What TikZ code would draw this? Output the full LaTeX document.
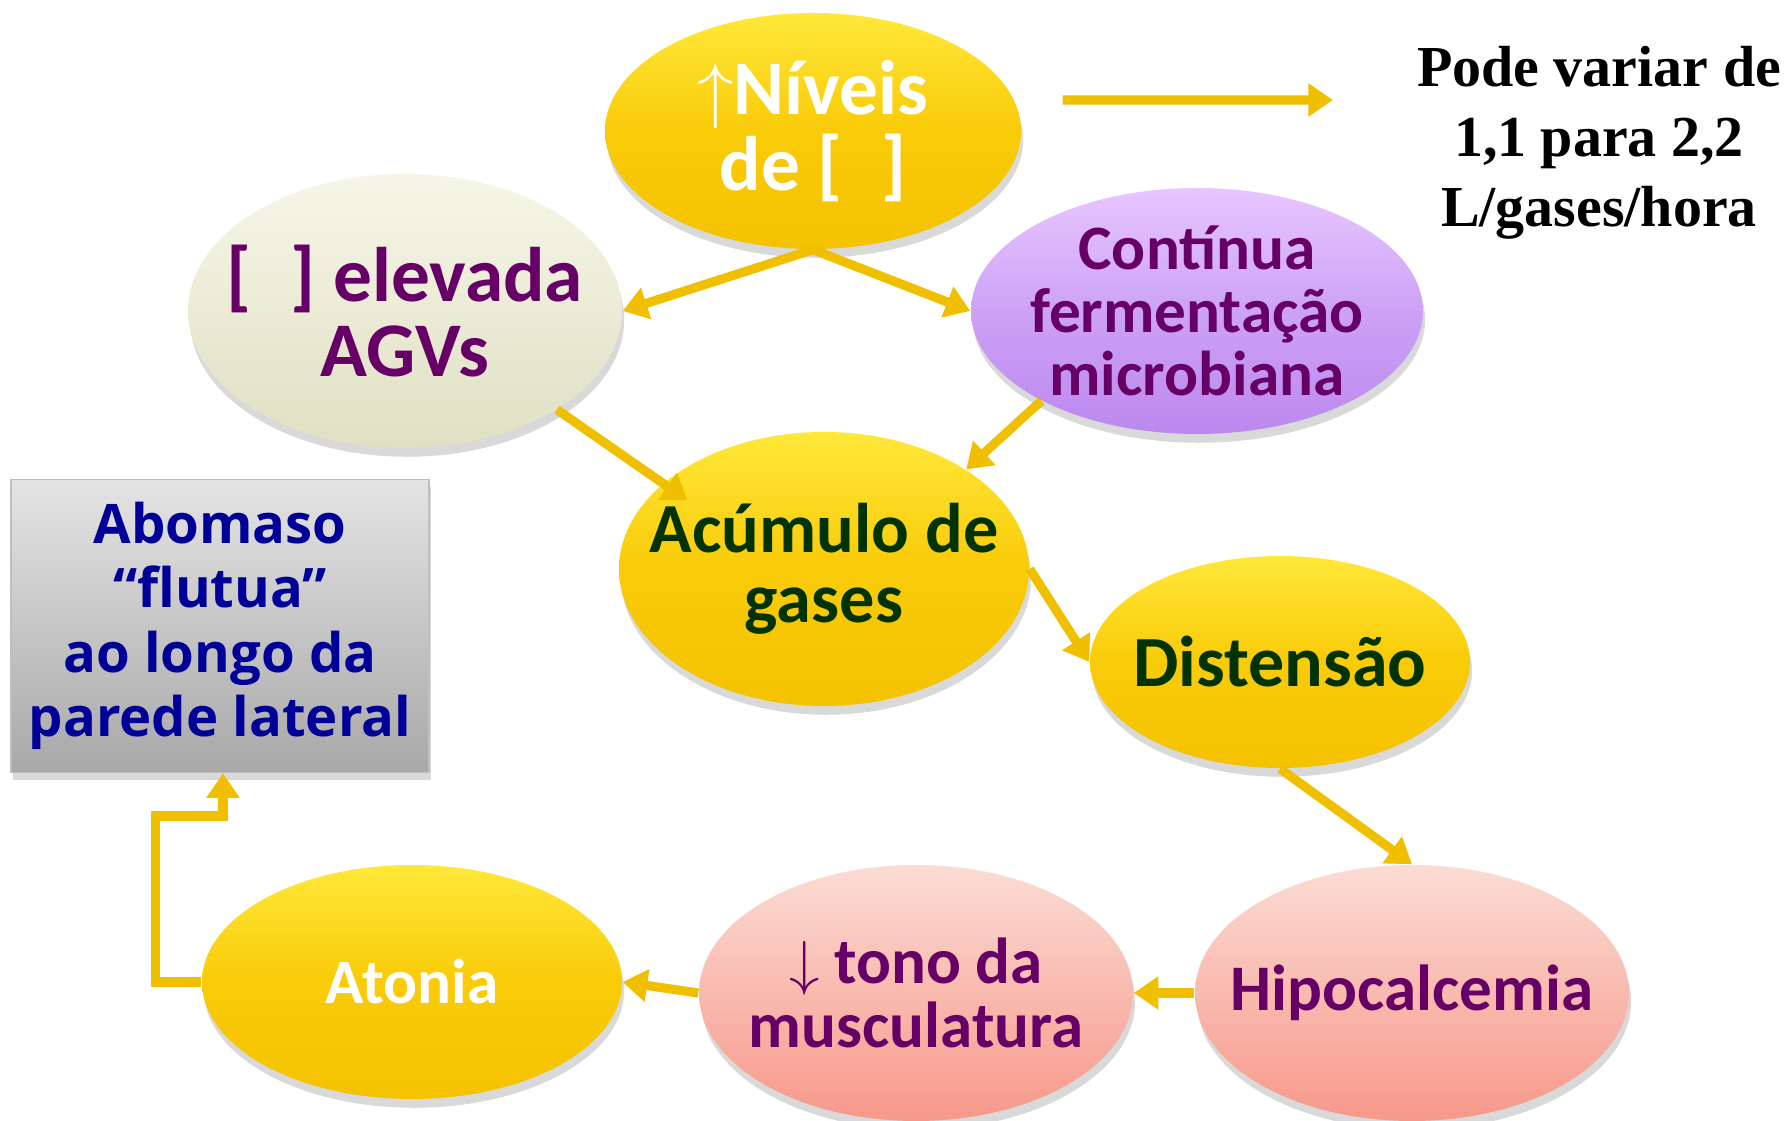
\documentclass[tikz,border=0pt]{standalone}
\usepackage{fontspec}
\setmainfont{Carlito}
\newfontfamily\boxfont{Open Sans}
\newfontfamily\notefont{Liberation Serif}
\usetikzlibrary{arrows.meta, shadows, shapes.geometric}
\usepackage{xcolor}
\definecolor{ArrowCol}{HTML}{F0BF00}
\definecolor{YellowTop}{HTML}{FFE83A}
\definecolor{YellowMid}{HTML}{F9CB08}
\definecolor{YellowBot}{HTML}{F5C200}
\definecolor{CreamTop}{HTML}{F6F6E8}
\definecolor{CreamBot}{HTML}{E0E0C4}
\definecolor{LilacTop}{HTML}{E8C6FF}
\definecolor{LilacMid}{HTML}{CDA2F6}
\definecolor{LilacBot}{HTML}{BC88EE}
\definecolor{PinkTop}{HTML}{FBDCD4}
\definecolor{PinkBot}{HTML}{F7988A}
\definecolor{PurpleText}{HTML}{660066}
\definecolor{GreenText}{HTML}{003300}
\definecolor{BlueText}{HTML}{000099}
\definecolor{BoxTop}{HTML}{E4E4E4}
\definecolor{BoxBot}{HTML}{A8A8A8}

\begin{document}
\begin{tikzpicture}[
		ball/.style = {ellipse, inner sep = -1.5cm, align = center, drop shadow = {shadow xshift = 0.6pt, shadow yshift = -2.5pt, opacity = 0.3}},
		yellowball/.style = {ball, top color = YellowTop, bottom color = YellowBot, middle color = YellowMid},
		creamball/.style = {ball, top color = CreamTop, bottom color = CreamBot},
		lilacball/.style = {ball, top color = LilacTop, bottom color = LilacBot, middle color = LilacMid},
		pinkball/.style = {ball, top color = PinkTop, bottom color = PinkBot},
		flow/.style = {line width = 2.6pt, ArrowCol, -{Triangle[width = 9pt, length = 7pt]}}
	]
	\useasboundingbox (0, 0) rectangle (17.90, 11.21);
	\node[yellowball, minimum width = 4.16cm, minimum height = 2.36cm, text = white, font = \fontsize{22}{21.5}\selectfont\bfseries] (niveis) at (8.13, 9.90) {$\uparrow$Níveis\\de [\hspace{0.5em}]};
	\node[creamball, minimum width = 4.34cm, minimum height = 2.74cm, text = PurpleText, font = \fontsize{22}{21.5}\selectfont\bfseries] (agv) at (4.05, 8.10) {[\hspace{0.5em}] elevada\\AGVs};
	\node[lilacball, minimum width = 4.52cm, minimum height = 2.46cm, text = PurpleText, font = \fontsize{18}{18}\selectfont\bfseries] (cont) at (11.97, 8.10) {Contínua\\fermentação\\microbiana};
	\node[yellowball, minimum width = 4.10cm, minimum height = 2.74cm, text = GreenText, font = \fontsize{20}{20}\selectfont\bfseries] (acum) at (8.24, 5.52) {Acúmulo de\\gases};
	\node[yellowball, minimum width = 3.80cm, minimum height = 2.12cm, text = GreenText, font = \fontsize{20.5}{20}\selectfont\bfseries] (dist) at (12.80, 4.59) {Distensão};
	\node[pinkball, minimum width = 4.34cm, minimum height = 2.56cm, text = PurpleText, font = \fontsize{18.5}{18}\selectfont\bfseries] (hipo) at (14.12, 1.28) {Hipocalcemia};
	\node[pinkball, minimum width = 4.34cm, minimum height = 2.56cm, text = PurpleText, font = \fontsize{18.5}{18}\selectfont\bfseries] (tono) at (9.16, 1.28) {$\downarrow$ tono da\\musculatura};
	\node[yellowball, minimum width = 4.20cm, minimum height = 2.34cm, text = white, font = \fontsize{18}{18}\selectfont\bfseries] (aton) at (4.12, 1.39) {Atonia};
	\node[draw = gray!50, top color = BoxTop, bottom color = BoxBot, minimum width = 4.18cm, minimum height = 2.93cm, inner sep = 0pt, align = center, text = BlueText, font = \boxfont\fontsize{15.5}{18.3}\selectfont\bfseries, drop shadow = {shadow xshift = 0.6pt, shadow yshift = -2pt, opacity = 0.3}] (abom) at (2.20, 4.95) {Abomaso\\“flutua”\\ao longo da\\parede lateral};
	\node[align = center, font = \notefont\fontsize{16.5}{20}\selectfont\bfseries] (pode) at (15.99, 9.78) {Pode variar de\\1,1 para 2,2\\L/gases/hora};
	\coordinate (gasA) at ([shift = {(0.41, 0.31)}]niveis.east);
	\coordinate (gasB) at (13.33, 10.21);
	\coordinate (bend) at (2.23, 3.05);
	\draw[flow] (gasA) -- (gasB);
	\draw[flow] (niveis.south) -- (agv.east);
	\draw[flow] (niveis.south) -- (cont.west);
	\draw[flow, shorten > = -0.3cm] (agv.-33) -- (acum.152);
	\draw[flow] (cont.-150) -- (acum.35);
	\draw[flow] (acum.east) -- (dist.west);
	\draw[flow] (dist.south) -- (hipo.north);
	\draw[flow] (hipo.west) -- (tono.east);
	\draw[flow] (tono.west) -- (aton.east);
	\draw[flow] (aton.west) -- ++(-0.46, 0) |- (bend) -- (bend |- abom.south);
\end{tikzpicture}
\end{document}
